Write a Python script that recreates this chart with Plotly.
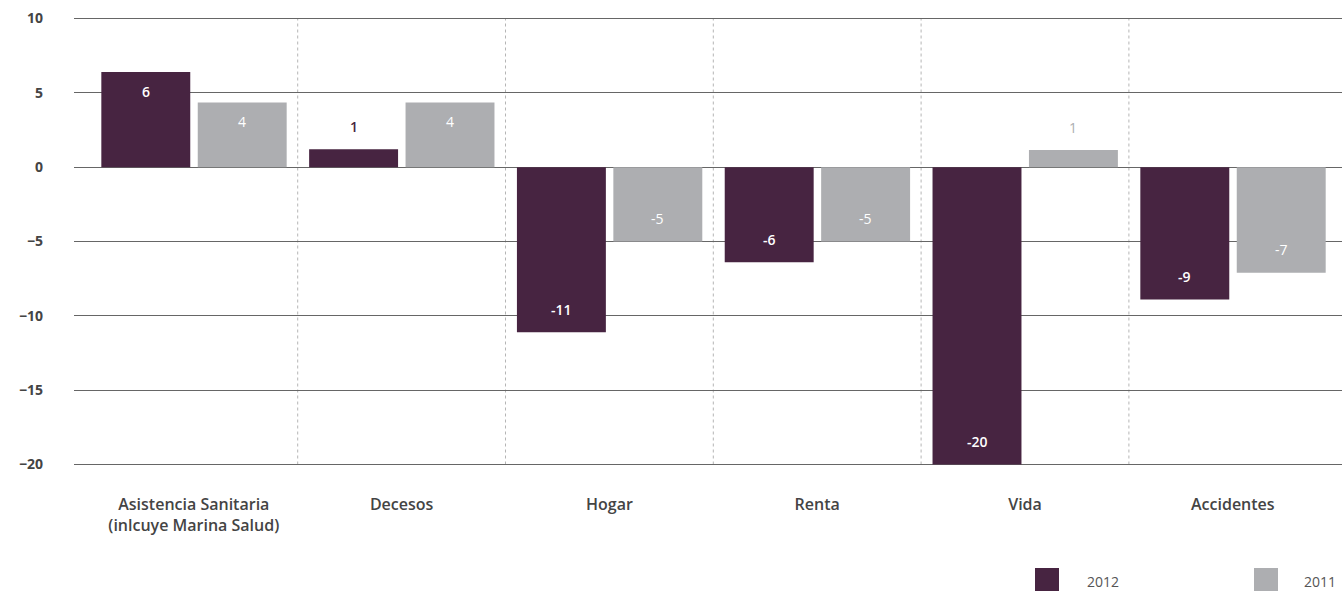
import plotly.graph_objects as go

categories = ["Asistencia Sanitaria<br>(inlcuye Marina Salud)", "Decesos", "Hogar", "Renta", "Vida", "Accidentes"]
values_2012 = [6.4, 1.2, -11.1, -6.4, -20.0, -8.9]
values_2011 = [4.35, 4.35, -5.0, -5.0, 1.15, -7.1]
series_names = ["2012", "2011"]
y_ticks = [10, 5, 0, -5, -10, -15, -20]

PURPLE = "#472441"
GRAY = "#adaeb1"
FONT = "Open Sans"

BAR_W = 0.428
OFFSETS = [-0.445, 0.019]

fig = go.Figure()
idx = list(range(len(categories)))
for vals, name, color, off in [(values_2012, series_names[0], PURPLE, OFFSETS[0]),
                               (values_2011, series_names[1], GRAY, OFFSETS[1])]:
    fig.add_trace(go.Bar(x=idx, y=vals, name=name, marker=dict(color=color, line=dict(width=0)),
                         width=BAR_W, offset=off, showlegend=False, hoverinfo="y"))

annotations = []
for vals, color, off, bold in [(values_2012, PURPLE, OFFSETS[0], 600), (values_2011, GRAY, OFFSETS[1], 400)]:
    for i, v in enumerate(vals):
        xc = i + off + BAR_W / 2
        label = str(int(round(v)))
        if v >= 2:
            ys, fc = -19, "white"
        elif v >= 0:
            ys, fc = 23, color
        else:
            ys, fc = 23, "white"
        annotations.append(dict(x=xc, y=v, xref="x", yref="y", text=label, showarrow=False,
                                yshift=ys, font=dict(family=FONT, size=14, color=fc, weight=bold)))

# legend drawn manually
shapes = []
def px_x(p):
    return (p - 74) / 1268
def px_y(p):
    return (466 - p) / 449

for name, color, x0, tx in [(series_names[0], PURPLE, 1035, 1085), (series_names[1], GRAY, 1254, 1302)]:
    shapes.append(dict(type="rect", xref="paper", yref="paper", x0=px_x(x0), x1=px_x(x0 + 24),
                       y0=px_y(591), y1=px_y(568), fillcolor=color, line=dict(width=0)))
    annotations.append(dict(x=px_x(tx), y=px_y(581), xref="paper", yref="paper", text=name,
                            showarrow=False, xanchor="left", yanchor="middle",
                            font=dict(family=FONT, size=14, color="#555")))

# dotted separators between categories
for i in range(len(categories) - 1):
    shapes.append(dict(type="line", xref="x", yref="y", x0=i + 0.5, x1=i + 0.5, y0=-20, y1=10,
                       line=dict(color="#b5b5b5", width=1, dash="dot"), layer="below"))

fig.update_layout(
    width=1342, height=591,
    margin=dict(l=74, r=0, t=17, b=125),
    plot_bgcolor="white", paper_bgcolor="white",
    barmode="overlay",
    annotations=annotations,
    shapes=shapes,
    font=dict(family=FONT, color="#444"),
    xaxis=dict(
        range=[-0.5765, 5.5255], tickmode="array", tickvals=idx, ticktext=categories,
        showgrid=False, zeroline=False, showline=False, ticks="",
        tickfont=dict(family=FONT, size=16, color="#444", weight=600),
        ticklabelstandoff=27,
    ),
    yaxis=dict(
        range=[-20.1, 10.1], tickmode="array", tickvals=y_ticks,
        showgrid=True, gridcolor="#666", gridwidth=1,
        zeroline=True, zerolinecolor="#666", zerolinewidth=1,
        showline=False, ticks="",
        tickfont=dict(family=FONT, size=14, color="#444", weight=700),
        ticklabelstandoff=30,
    ),
)

fig.write_html("out.html")
